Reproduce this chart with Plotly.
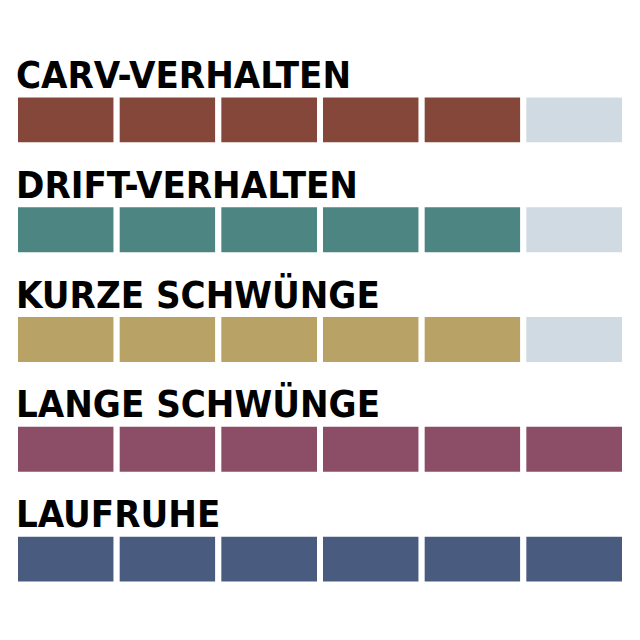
import plotly.graph_objects as go

# Test ratings, 6 segments per category
categories = ["CARV-VERHALTEN", "DRIFT-VERHALTEN", "KURZE SCHWÜNGE", "LANGE SCHWÜNGE", "LAUFRUHE"]
scores = [5, 5, 5, 6, 6]
max_score = 6
colors = ["#84473A", "#4D8583", "#B8A266", "#8C4E66", "#495C80"]
empty_color = "#D0DAE2"

fig = go.Figure()

# one trace per segment position, stacked side by side
for i in range(max_score):
    seg_colors = [c if s > i else empty_color for c, s in zip(colors, scores)]
    fig.add_trace(go.Bar(
        y=categories,
        x=[1] * len(categories),
        base=[i] * len(categories),
        orientation='h',
        width=0.464,
        marker=dict(color=seg_colors, line=dict(color='white', width=6)),
        hoverinfo='skip',
        showlegend=False
    ))

# category labels above each bar
for cat in categories:
    fig.add_annotation(
        x=0, y=cat, xref='x', yref='y',
        text=cat, showarrow=False,
        xanchor='left', yanchor='bottom',
        xshift=-1, yshift=21,
        font=dict(family="DejaVu Sans Condensed", size=38, color='black', weight='bold')
    )

# page body adds an 8px margin, so shift the plot area up/left
fig.update_layout(
    width=640, height=640,
    margin=dict(l=7, r=23, t=56.5, b=33.5),
    paper_bgcolor='white', plot_bgcolor='white',
    barmode='overlay',
    xaxis=dict(range=[0, max_score], visible=False, fixedrange=True),
    yaxis=dict(autorange=False, range=[len(categories) - 0.5, -0.5],
               type='category', visible=False, fixedrange=True),
)

fig.write_html("out.html")
